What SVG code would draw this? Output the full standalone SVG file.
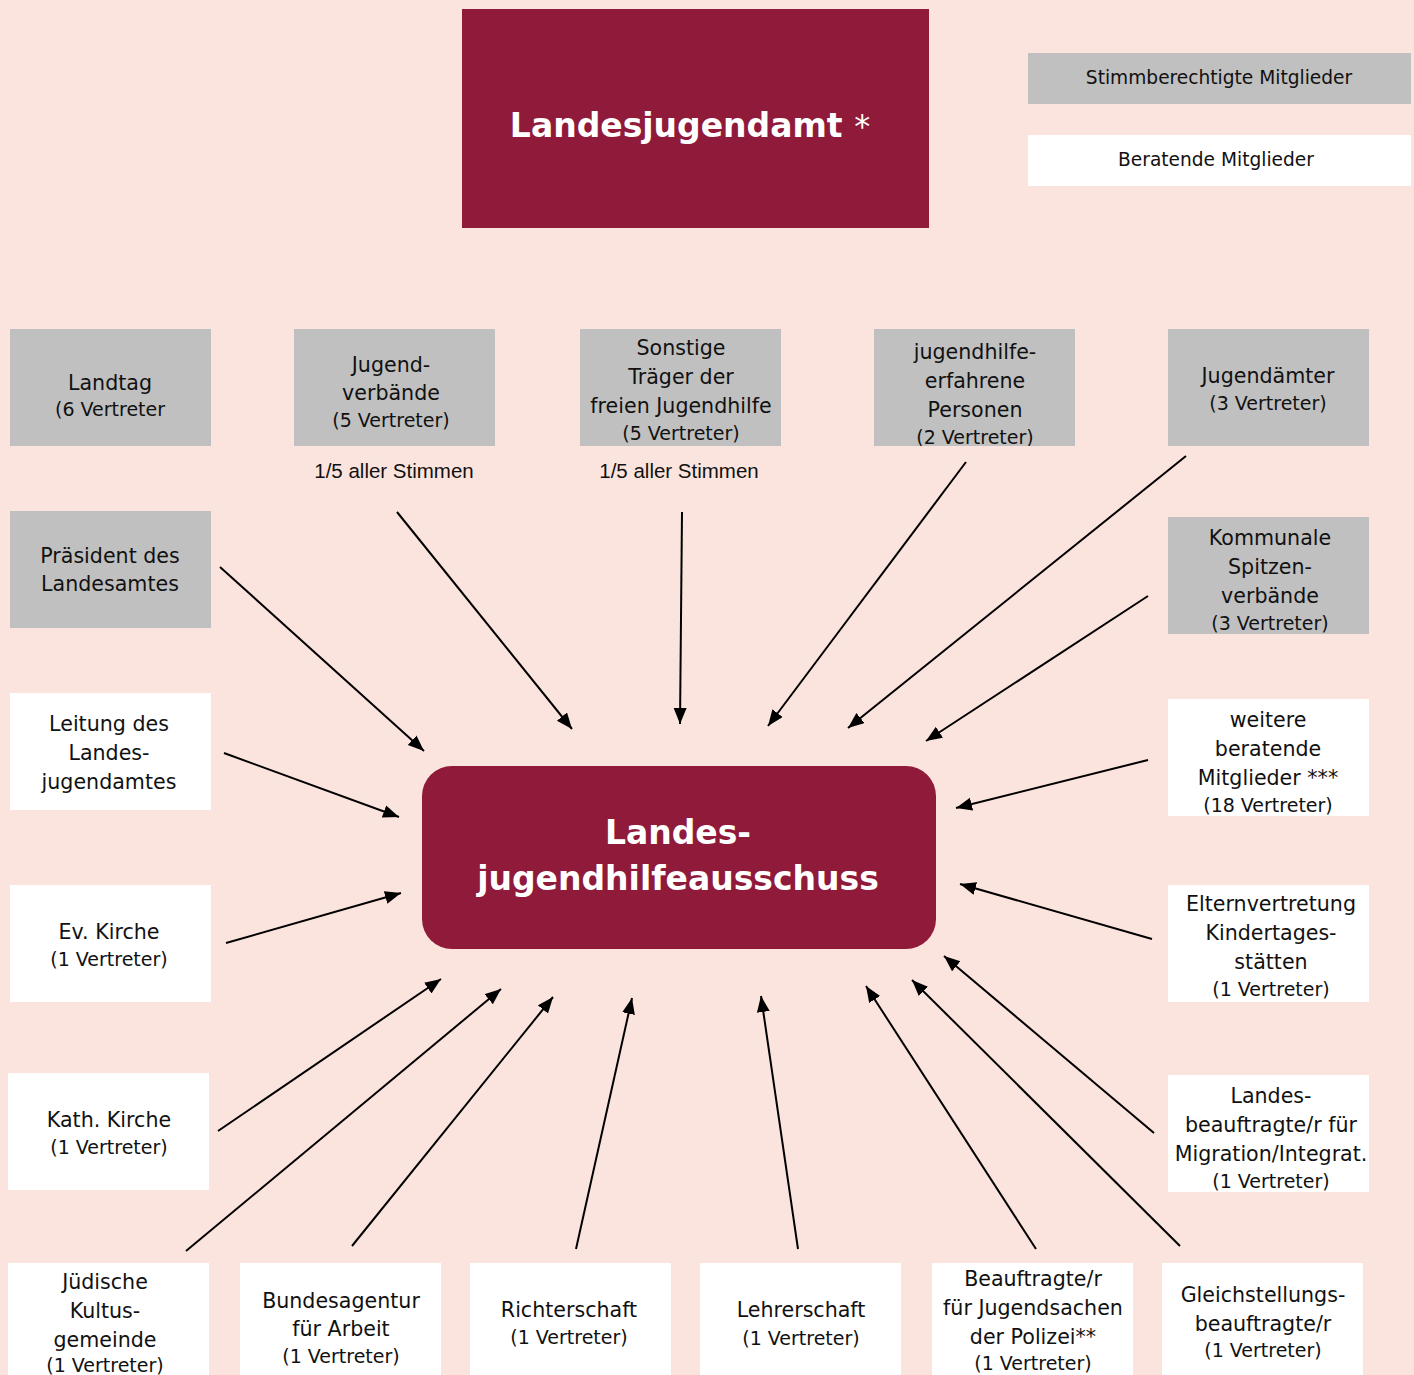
<svg xmlns="http://www.w3.org/2000/svg" width="1414" height="1375" viewBox="0 0 1414 1375">
<style>
.bg{fill:#FCE4DE}
.red{fill:#8F1A3A}
.g{fill:#C0C0C0}
.w{fill:#FFFFFF}
.t{font-family:"DejaVu Sans",Verdana,sans-serif;font-size:20.6px;fill:#111;text-anchor:middle}
.s{font-size:19px}
.a{font-family:"Liberation Sans",Arial,sans-serif;font-size:20.5px;fill:#111;text-anchor:middle}
.h{font-family:"DejaVu Sans",Verdana,sans-serif;font-weight:bold;font-size:33px;fill:#fff;text-anchor:middle}
.leg{font-family:"DejaVu Sans",Verdana,sans-serif;font-size:18.6px;fill:#111;text-anchor:middle}
#connectors line{stroke:#000;stroke-width:2;marker-end:url(#arr)}
</style>
<defs>
<marker id="arr" markerUnits="userSpaceOnUse" markerWidth="18" markerHeight="14" refX="16" refY="6.5" orient="auto">
<path d="M0,0 L16,6.5 L0,13 z" fill="#000"/>
</marker>
<clipPath id="c1"><rect x="874" y="329" width="201" height="117"/></clipPath>
<clipPath id="c2"><rect x="1168" y="517" width="201" height="117"/></clipPath>
</defs>
<rect class="bg" x="0" y="0" width="1414" height="1375"/>

<g id="landesjugendamt">
<rect class="red" x="462" y="9" width="467" height="219"/>
<text class="h" x="690" y="137">Landesjugendamt <tspan font-weight="normal" font-size="32">*</tspan></text>
</g>

<g id="legend">
<rect class="g" x="1028" y="53" width="383" height="51"/>
<text class="leg" x="1219" y="84">Stimmberechtigte Mitglieder</text>
<rect class="w" x="1028" y="135" width="383" height="51"/>
<text class="leg" x="1216" y="166">Beratende Mitglieder</text>
</g>

<g id="ljha">
<rect class="red" x="422" y="766" width="514" height="183" rx="30"/>
<text class="h" x="678" y="844">Landes-</text>
<text class="h" x="678" y="890">jugendhilfeausschuss</text>
</g>

<g id="landtag">
<rect class="g" x="10" y="329" width="201" height="117"/>
<text class="t" x="110" y="390">Landtag</text>
<text class="t s" x="110" y="416">(6 Vertreter</text>
</g>
<g id="jugendverbaende">
<rect class="g" x="294" y="329" width="201" height="117"/>
<text class="t" x="391" y="372">Jugend-</text>
<text class="t" x="391" y="400">verbände</text>
<text class="t s" x="391" y="427">(5 Vertreter)</text>
</g>
<text class="a" x="394" y="478">1/5 aller Stimmen</text>
<g id="sonstige">
<rect class="g" x="580" y="329" width="201" height="117"/>
<text class="t" x="681" y="355">Sonstige</text>
<text class="t" x="681" y="384">Träger der</text>
<text class="t" x="681" y="413">freien Jugendhilfe</text>
<text class="t s" x="681" y="440">(5 Vertreter)</text>
</g>
<text class="a" x="679" y="478">1/5 aller Stimmen</text>
<g id="erfahrene" clip-path="url(#c1)">
<rect class="g" x="874" y="329" width="201" height="117"/>
<text class="t" x="975" y="359">jugendhilfe-</text>
<text class="t" x="975" y="388">erfahrene</text>
<text class="t" x="975" y="417">Personen</text>
<text class="t s" x="975" y="444">(2 Vertreter)</text>
</g>
<g id="jugendaemter">
<rect class="g" x="1168" y="329" width="201" height="117"/>
<text class="t" x="1268" y="383">Jugendämter</text>
<text class="t s" x="1268" y="410">(3 Vertreter)</text>
</g>
<g id="praesident">
<rect class="g" x="10" y="511" width="201" height="117"/>
<text class="t" x="110" y="563">Präsident des</text>
<text class="t" x="110" y="591">Landesamtes</text>
</g>
<g id="kommunale" clip-path="url(#c2)">
<rect class="g" x="1168" y="517" width="201" height="117"/>
<text class="t" x="1270" y="545">Kommunale</text>
<text class="t" x="1270" y="574">Spitzen-</text>
<text class="t" x="1270" y="603">verbände</text>
<text class="t s" x="1270" y="630">(3 Vertreter)</text>
</g>
<g id="leitung">
<rect class="w" x="10" y="693" width="201" height="117"/>
<text class="t" x="109" y="731">Leitung des</text>
<text class="t" x="109" y="760">Landes-</text>
<text class="t" x="109" y="789">jugendamtes</text>
</g>
<g id="weitere">
<rect class="w" x="1168" y="699" width="201" height="117"/>
<text class="t" x="1268" y="727">weitere</text>
<text class="t" x="1268" y="756">beratende</text>
<text class="t" x="1268" y="785">Mitglieder ***</text>
<text class="t s" x="1268" y="812">(18 Vertreter)</text>
</g>
<g id="evkirche">
<rect class="w" x="10" y="885" width="201" height="117"/>
<text class="t" x="109" y="939">Ev. Kirche</text>
<text class="t s" x="109" y="966">(1 Vertreter)</text>
</g>
<g id="eltern">
<rect class="w" x="1168" y="885" width="201" height="117"/>
<text class="t" x="1271" y="911">Elternvertretung</text>
<text class="t" x="1271" y="940">Kindertages-</text>
<text class="t" x="1271" y="969">stätten</text>
<text class="t s" x="1271" y="996">(1 Vertreter)</text>
</g>
<g id="kathkirche">
<rect class="w" x="8" y="1073" width="201" height="117"/>
<text class="t" x="109" y="1127">Kath. Kirche</text>
<text class="t s" x="109" y="1154">(1 Vertreter)</text>
</g>
<g id="migration">
<rect class="w" x="1168" y="1075" width="201" height="117"/>
<text class="t" x="1271" y="1103">Landes-</text>
<text class="t" x="1271" y="1132">beauftragte/r für</text>
<text class="t" x="1271" y="1161">Migration/Integrat.</text>
<text class="t s" x="1271" y="1188">(1 Vertreter)</text>
</g>
<g id="juedische">
<rect class="w" x="8" y="1263" width="201" height="117"/>
<text class="t" x="105" y="1289">Jüdische</text>
<text class="t" x="105" y="1318">Kultus-</text>
<text class="t" x="105" y="1347">gemeinde</text>
<text class="t s" x="105" y="1372">(1 Vertreter)</text>
</g>
<g id="bundesagentur">
<rect class="w" x="240" y="1263" width="201" height="117"/>
<text class="t" x="341" y="1308">Bundesagentur</text>
<text class="t" x="341" y="1336">für Arbeit</text>
<text class="t s" x="341" y="1363">(1 Vertreter)</text>
</g>
<g id="richterschaft">
<rect class="w" x="470" y="1263" width="201" height="117"/>
<text class="t" x="569" y="1317">Richterschaft</text>
<text class="t s" x="569" y="1344">(1 Vertreter)</text>
</g>
<g id="lehrerschaft">
<rect class="w" x="700" y="1263" width="201" height="117"/>
<text class="t" x="801" y="1317">Lehrerschaft</text>
<text class="t s" x="801" y="1345">(1 Vertreter)</text>
</g>
<g id="polizei">
<rect class="w" x="932" y="1263" width="201" height="117"/>
<text class="t" x="1033" y="1286">Beauftragte/r</text>
<text class="t" x="1033" y="1315">für Jugendsachen</text>
<text class="t" x="1033" y="1344">der Polizei**</text>
<text class="t s" x="1033" y="1370">(1 Vertreter)</text>
</g>
<g id="gleichstellung">
<rect class="w" x="1162" y="1263" width="201" height="117"/>
<text class="t" x="1263" y="1302">Gleichstellungs-</text>
<text class="t" x="1263" y="1331">beauftragte/r</text>
<text class="t s" x="1263" y="1357">(1 Vertreter)</text>
</g>

<g id="connectors">
<line x1="220" y1="567" x2="424" y2="751"/>
<line x1="397" y1="512" x2="572" y2="729"/>
<line x1="682" y1="512" x2="680" y2="724"/>
<line x1="966" y1="462" x2="768" y2="726"/>
<line x1="1186" y1="456" x2="848" y2="728"/>
<line x1="1148" y1="596" x2="926" y2="741"/>
<line x1="1148" y1="760" x2="956" y2="808"/>
<line x1="1152" y1="939" x2="960" y2="884"/>
<line x1="1154" y1="1133" x2="944" y2="956"/>
<line x1="1180" y1="1246" x2="912" y2="980"/>
<line x1="1036" y1="1249" x2="866" y2="986"/>
<line x1="798" y1="1249" x2="761" y2="996"/>
<line x1="576" y1="1249" x2="632" y2="998"/>
<line x1="352" y1="1246" x2="553" y2="997"/>
<line x1="186" y1="1251" x2="501" y2="989"/>
<line x1="218" y1="1131" x2="441" y2="979"/>
<line x1="226" y1="943" x2="401" y2="893"/>
<line x1="224" y1="753" x2="399" y2="817"/>
</g>
</svg>
